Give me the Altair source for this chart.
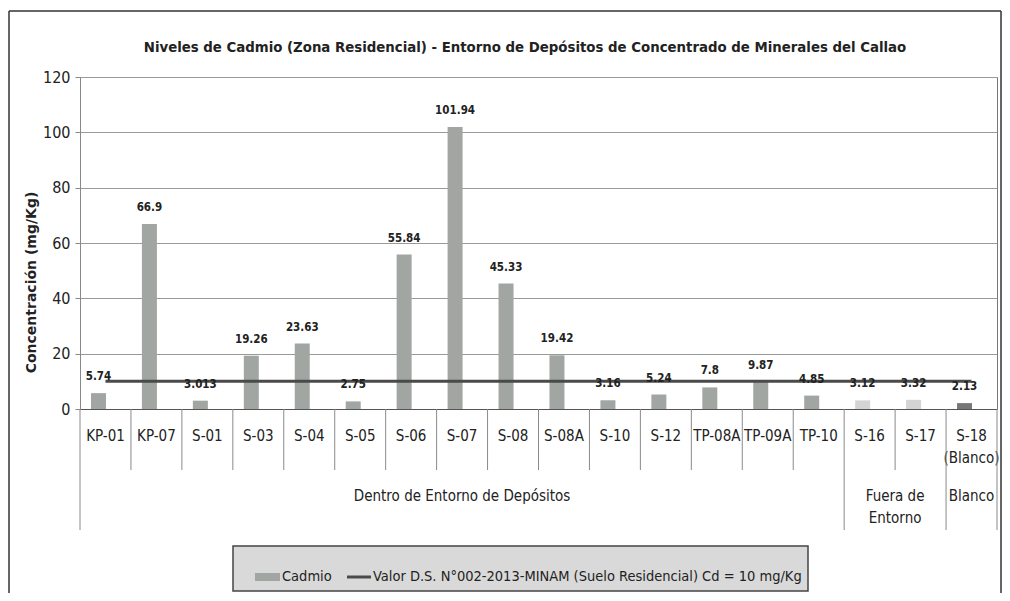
import altair as alt
import pandas as pd

# ---- data ----
categories = ["KP-01", "KP-07", "S-01", "S-03", "S-04", "S-05", "S-06", "S-07", "S-08",
              "S-08A", "S-10", "S-12", "TP-08A", "TP-09A", "TP-10", "S-16", "S-17", "S-18 (Blanco)"]
cadmio = [5.74, 66.9, 3.013, 19.26, 23.63, 2.75, 55.84, 101.94, 45.33,
          19.42, 3.16, 5.24, 7.8, 9.87, 4.85, 3.12, 3.32, 2.13]
value_labels = ["5.74", "66.9", "3.013", "19.26", "23.63", "2.75", "55.84", "101.94", "45.33",
                "19.42", "3.16", "5.24", "7.8", "9.87", "4.85", "3.12", "3.32", "2.13"]
group_names = ["Dentro de Entorno de Depósitos", "Fuera de\nEntorno", "Blanco"]
group_counts = [15, 2, 1]
limit_value = 10
y_ticks = [0, 20, 40, 60, 80, 100, 120]
title_text = "Niveles de Cadmio (Zona Residencial) - Entorno de Depósitos de Concentrado de Minerales del Callao"
y_title = "Concentración (mg/Kg)"
legend_bar = "Cadmio"
legend_line = "Valor D.S. N°002-2013-MINAM (Suelo Residencial) Cd = 10 mg/Kg"

# ---- derived tables ----
cat_group = []
for g, n in zip(group_names, group_counts):
    cat_group += [g] * n
df = pd.DataFrame({"cat": categories, "val": cadmio, "lab": value_labels,
                   "grp": cat_group, "lim": [limit_value] * len(categories)})

bounds = [0]
for n in group_counts:
    bounds.append(bounds[-1] + n)
all_b = list(range(len(categories) + 1))
inner_b = pd.DataFrame({"b": [b for b in all_b if b not in bounds]})
group_b = pd.DataFrame({"b": bounds})
centers = [(bounds[i] + bounds[i + 1]) / 2 for i in range(len(group_counts))]
grp_df = pd.DataFrame({"pos": centers, "name": group_names})

F = "Liberation Sans Narrow, DejaVu Sans Condensed, sans-serif"
TXT = "#222222"
W, H = 917, 332
N = len(categories)

x_band = alt.X("cat:N", scale=alt.Scale(domain=categories, paddingInner=0, paddingOuter=0),
               axis=alt.Axis(title=None, labelExpr="split(datum.label, ' ')", labelFont=F,
                             labelFontSize=15, labelColor=TXT, labelPadding=19,
                             labelBaseline="top", labelAngle=0, labelLineHeight=22,
                             ticks=False, domainColor="#555555", grid=False))
y_axis = alt.Axis(title=y_title, values=y_ticks, grid=True, gridColor="#9a9a9a", gridWidth=1,
                  tickSize=5, tickColor="#888888", domainColor="#888888",
                  labelFont=F, labelFontSize=16, labelColor=TXT, labelPadding=5,
                  titleFont="DejaVu Sans", titleFontWeight="bold", titleFontSize=14,
                  titleColor=TXT, titleX=-49, titleY=205, titleAngle=270,
                  titleAlign="center", titleBaseline="middle")
y_scale = alt.Scale(domain=[0, 120])

color = alt.Color("grp:N", scale=alt.Scale(domain=group_names,
                                           range=["#a1a6a3", "#d4d4d4", "#777777"]), legend=None)

base = alt.Chart(df)
bars = base.mark_bar(size=15, xOffset=-7).encode(
    x=x_band, y=alt.Y("val:Q", scale=y_scale, axis=y_axis), color=color)
line = base.mark_line(color="#4a4a4a", strokeWidth=3).encode(
    x=x_band, y=alt.Y("lim:Q", scale=y_scale, axis=y_axis))
labels = base.mark_text(dy=-16, dx=-7, fontSize=11.5, fontWeight="bold", font=F, color=TXT,
                        baseline="middle").encode(
    x=x_band, y=alt.Y("val:Q", scale=y_scale, axis=y_axis), text="lab:N")
main = alt.layer(bars, line, labels)

xq = alt.X("b:Q", scale=alt.Scale(domain=[0, N]), axis=None)
div_inner = alt.Chart(inner_b).mark_rule(color="#8a8a8a", strokeWidth=1).encode(
    x=xq, y=alt.value(H), y2=alt.value(H + 61))
div_group = alt.Chart(group_b).mark_rule(color="#8a8a8a", strokeWidth=1).encode(
    x=xq, y=alt.value(H), y2=alt.value(H + 121))
grp_text = alt.Chart(grp_df).mark_text(font=F, fontSize=15, color=TXT, baseline="top",
                                       align="center", lineBreak="\n", lineHeight=22).encode(
    x=alt.X("pos:Q", scale=alt.Scale(domain=[0, N]), axis=None),
    y=alt.value(H + 80), text="name:N")

one = pd.DataFrame({"k": [0]})
title_mark = alt.Chart(one).mark_text(font=F, fontSize=14.8, fontWeight="bold", color=TXT,
                                      align="center", baseline="middle", text=title_text).encode(
    x=alt.value(445), y=alt.value(-29))
leg_box = alt.Chart(one).mark_rect(fill="#d9d9d9", stroke="#444444", strokeWidth=1.5).encode(
    x=alt.value(153), x2=alt.value(728), y=alt.value(469), y2=alt.value(514))
leg_sw = alt.Chart(one).mark_rect(fill="#a1a6a3").encode(
    x=alt.value(175), x2=alt.value(200), y=alt.value(496), y2=alt.value(504))
leg_t1 = alt.Chart(one).mark_text(font=F, fontSize=14.5, color=TXT, align="left",
                                  baseline="middle", text=legend_bar).encode(
    x=alt.value(202), y=alt.value(500))
leg_ln = alt.Chart(one).mark_rule(color="#4a4a4a", strokeWidth=3).encode(
    x=alt.value(267), x2=alt.value(291), y=alt.value(500))
leg_t2 = alt.Chart(one).mark_text(font=F, fontSize=14.5, color=TXT, align="left",
                                  baseline="middle", text=legend_line).encode(
    x=alt.value(293), y=alt.value(500))

fr_top = alt.Chart(one).mark_rule(color="#333333", strokeWidth=1.5).encode(
    x=alt.value(-71), x2=alt.value(W + 4), y=alt.value(-66))
fr_left = alt.Chart(one).mark_rule(color="#333333", strokeWidth=1.5).encode(
    x=alt.value(-71), y=alt.value(-66), y2=alt.value(H + 190))
fr_right = alt.Chart(one).mark_rule(color="#333333", strokeWidth=1.5).encode(
    x=alt.value(W + 4), y=alt.value(-66), y2=alt.value(H + 190))

chart = alt.layer(main, div_inner, div_group, grp_text, title_mark, leg_box, leg_sw, leg_t1,
                  leg_ln, leg_t2, fr_top, fr_left, fr_right).resolve_scale(x="independent").properties(
    width=W, height=H,
    padding={"left": 72, "top": 69, "right": 5, "bottom": 184},
    autosize=alt.AutoSizeParams(type="none"),
).configure_view(stroke="#777777", strokeWidth=1)

chart.save("out.html", embed_options={"renderer": "svg", "actions": False})
